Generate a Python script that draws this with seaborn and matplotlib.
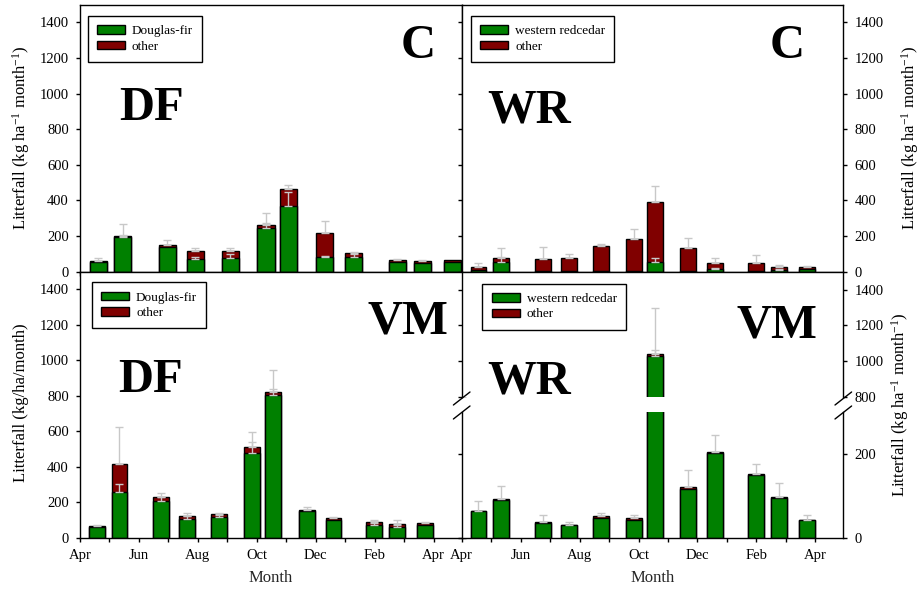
import numpy as np
import matplotlib
matplotlib.use("Agg")
import matplotlib.pyplot as plt
from matplotlib.patches import Patch
from matplotlib.lines import Line2D
import seaborn as sns

# Collection dates, expressed in months after 1 April
collection = [0.57, 1.34, 2.75, 3.63, 4.72, 5.85, 6.55, 7.69, 8.60, 9.98, 10.76, 11.72]
month_labels = ["Apr", "Jun", "Aug", "Oct", "Dec", "Feb", "Apr"]
y_ticks = [0, 200, 400, 600, 800, 1000, 1200, 1400]

# Control stand (C), Douglas-fir plots
c_df_fir = [56, 193, 140, 69, 75, 243, 369, 80, 80, 56, 49, 56]
c_df_total = [60, 198, 150, 116, 118, 262, 462, 219, 105, 66, 58, 66]
c_df_fir_se = [np.nan, 12, np.nan, 15, 24, 28, 77, 8, 19, np.nan, np.nan, np.nan]
c_df_total_se = [15, 68, 28, 15, 13, 66, 25, 66, 5, 5, 6, np.nan]

# Control stand (C), western redcedar plots
c_wr_cedar = [9, 52, 2, 2, 2, 2, 56, 3, 13, 3, 9, 13]
c_wr_total = [28, 75, 71, 75, 144, 182, 390, 131, 47, 47, 24, 26]
c_wr_cedar_se = [np.nan, 28, np.nan, np.nan, np.nan, np.nan, 23, np.nan, 6, np.nan, 4, np.nan]
c_wr_total_se = [19, 56, 66, 24, 11, 56, 93, 56, 32, 45, 13, 8]

# Variable-retention stand (VM), Douglas-fir plots
vm_df_fir = [61, 256, 207, 107, 117, 478, 802, 150, 102, 74, 61, 70]
vm_df_total = [67, 413, 230, 124, 135, 509, 824, 157, 113, 91, 80, 83]
vm_df_fir_se = [np.nan, 46, 21, 15, 13, 61, 37, np.nan, np.nan, 9, 9, np.nan]
vm_df_total_se = [7, 213, 22, 17, 6, 85, 120, 15, 6, 11, 22, 6]

# Variable-retention stand (VM), western redcedar plots
vm_wr_cedar = [63, 90, 36, 31, 46, 41, 1026, 116, 201, 149, 94, 42]
vm_wr_total = [63, 92, 38, 31, 51, 46, 1041, 120, 204, 151, 96, 42]
vm_wr_cedar_se = [np.nan, np.nan, np.nan, np.nan, np.nan, np.nan, 34, np.nan, np.nan, np.nan, np.nan, np.nan]
vm_wr_total_se = [24, 30, 15, 7, 9, 8, 256, 41, 41, 24, 34, 12]

GREEN = "#008000"
RED = "#800000"
ERR = "#c8c8c8"
BAR_WIDTH = 0.54  # months

sns.set_style("ticks")
plt.rcParams["font.family"] = ["Liberation Serif", "DejaVu Serif"]
plt.rcParams["mathtext.fontset"] = "custom"
plt.rcParams["mathtext.rm"] = "Liberation Serif"
plt.rcParams["mathtext.it"] = "Liberation Serif:italic"
plt.rcParams["mathtext.bf"] = "Liberation Serif:bold"
plt.rcParams["axes.edgecolor"] = "black"
plt.rcParams["axes.linewidth"] = 1.0
plt.rcParams["xtick.color"] = "black"
plt.rcParams["ytick.color"] = "black"
plt.rcParams["text.color"] = "black"

W, H = 923, 590
fig = plt.figure(figsize=(W / 100, H / 100), dpi=100)


def rect(x0, y0, x1, y1):
    return [x0 / W, 1 - y1 / H, (x1 - x0) / W, (y1 - y0) / H]


def fx(px):
    return px / W


def fy(py):
    return 1 - py / H


ax_tl = fig.add_axes(rect(80, 4.5, 461.7, 271.7))
ax_tr = fig.add_axes(rect(461.7, 4.5, 843.3, 271.7))
ax_bl = fig.add_axes(rect(80, 271.7, 461.7, 537.7))
ax_bru = fig.add_axes(rect(461.7, 271.7, 843.3, 396.7))
ax_brl = fig.add_axes(rect(461.7, 411.7, 843.3, 537.7))


def stacked(ax, lower, total, lower_se, total_se):
    step = np.diff(sorted(collection)).min()
    w = BAR_WIDTH / step
    sns.barplot(x=collection, y=total, native_scale=True, orient="x", width=w,
                color=RED, saturation=1, edgecolor="black", linewidth=1.0,
                errorbar=None, ax=ax)
    sns.barplot(x=collection, y=lower, native_scale=True, orient="x", width=w,
                color=GREEN, saturation=1, edgecolor="black", linewidth=1.0,
                errorbar=None, ax=ax)
    for base, se in ((lower, lower_se), (total, total_se)):
        se = np.asarray(se, dtype=float)
        ok = ~np.isnan(se)
        xs = np.asarray(collection)[ok]
        ys = np.asarray(base, dtype=float)[ok]
        ax.errorbar(xs, ys, yerr=[np.zeros(ok.sum()), se[ok]], fmt="none",
                    ecolor=ERR, elinewidth=1.0, capsize=3, capthick=1.0, zorder=4)


def style_x(ax, xmax, labels):
    ax.set_xlim(0, xmax)
    ax.set_xticks(range(0, 13, 2))
    ax.set_xticks(range(1, 13, 2), minor=True)
    ax.set_xticklabels(month_labels if labels else [])
    ax.tick_params(axis="x", which="both", direction="out", length=3, width=1,
                   bottom=True, top=False, labelbottom=labels, labelsize=10.5, pad=5)
    ax.set_xlabel("")


def style_y(ax, lim, ticks, side):
    ax.set_ylim(*lim)
    ax.set_yticks(ticks)
    ax.tick_params(axis="y", which="both", direction="out", length=3, width=1,
                   left=True, right=True, labelleft=(side == "left"),
                   labelright=(side == "right"), labelsize=10.5, pad=5)
    ax.set_ylabel("")


stacked(ax_tl, c_df_fir, c_df_total, c_df_fir_se, c_df_total_se)
stacked(ax_tr, c_wr_cedar, c_wr_total, c_wr_cedar_se, c_wr_total_se)
stacked(ax_bl, vm_df_fir, vm_df_total, vm_df_fir_se, vm_df_total_se)
stacked(ax_bru, vm_wr_cedar, vm_wr_total, vm_wr_cedar_se, vm_wr_total_se)
stacked(ax_brl, vm_wr_cedar, vm_wr_total, vm_wr_cedar_se, vm_wr_total_se)

style_x(ax_tl, 11.93, False)
style_x(ax_tr, 12.95, False)
style_x(ax_bl, 12.95, True)
style_x(ax_brl, 12.95, True)
style_x(ax_bru, 12.95, False)
ax_bru.tick_params(axis="x", which="both", bottom=False)

style_y(ax_tl, (0, 1500), y_ticks, "left")
style_y(ax_tr, (0, 1500), y_ticks, "right")
style_y(ax_bl, (0, 1500), y_ticks, "left")
style_y(ax_bru, (800, 1500), [800, 1000, 1200, 1400], "right")
style_y(ax_brl, (0, 300), [0, 200], "right")

ax_bru.spines["bottom"].set_visible(False)
ax_brl.spines["top"].set_visible(False)
ax_bl.spines["right"].set_visible(False)

ax_bl.set_xlabel("Month", fontsize=12, labelpad=6)
ax_brl.set_xlabel("Month", fontsize=12, labelpad=6)

# axis titles
fig.text(fx(21.5), fy(137.5), "Litterfall (kg ha$^{-1}$ month$^{-1}$)", rotation=90,
         ha="center", va="center", fontsize=12)
fig.text(fx(21), fy(403), "Litterfall (kg/ha/month)", rotation=90,
         ha="center", va="center", fontsize=12)
fig.text(fx(910), fy(137.5), "Litterfall (kg ha$^{-1}$ month$^{-1}$)", rotation=90,
         ha="center", va="center", fontsize=12)
fig.text(fx(900), fy(405), "Litterfall (kg ha$^{-1}$ month$^{-1}$)", rotation=90,
         ha="center", va="center", fontsize=12)

# stand and species tags
big = dict(fontsize=35, fontweight="bold", ha="center", va="baseline")
fig.text(fx(418), fy(58), "C", **big)
fig.text(fx(786.7), fy(58), "C", **big)
fig.text(fx(151.7), fy(120), "DF", **big)
fig.text(fx(529), fy(123), "WR", **big)
fig.text(fx(151), fy(391.7), "DF", **big)
fig.text(fx(407.5), fy(333), "VM", **big)
fig.text(fx(529.5), fy(393), "WR", **big)
fig.text(fx(776.7), fy(337), "VM", **big)

# legends
def legend(ax, species, anchor):
    handles = [Patch(facecolor=GREEN, edgecolor="black", linewidth=1.0),
               Patch(facecolor=RED, edgecolor="black", linewidth=1.0)]
    leg = ax.legend(handles, [species, "other"], loc="upper left",
                    bbox_to_anchor=anchor, borderaxespad=0, fontsize=9.5,
                    frameon=True, fancybox=False, framealpha=1, edgecolor="black",
                    handlelength=2.15, handleheight=0.62, handletextpad=0.5,
                    labelspacing=0.25, borderpad=0.7)
    leg.get_frame().set_linewidth(1.0)


legend(ax_tl, "Douglas-fir", (0.020, 0.957))
legend(ax_tr, "western redcedar", (0.024, 0.957))
legend(ax_bl, "Douglas-fir", (0.031, 0.960))
legend(ax_bru, "western redcedar", (0.054, 0.902))

# break marks on the split axis
for xc in (461.7, 843.3):
    for yc in (398.5, 412.5):
        fig.add_artist(Line2D([fx(xc - 8.3), fx(xc + 8.3)], [fy(yc + 6.5), fy(yc - 6.5)],
                              color="black", linewidth=1.0))

fig.savefig("out.png", dpi=100)
